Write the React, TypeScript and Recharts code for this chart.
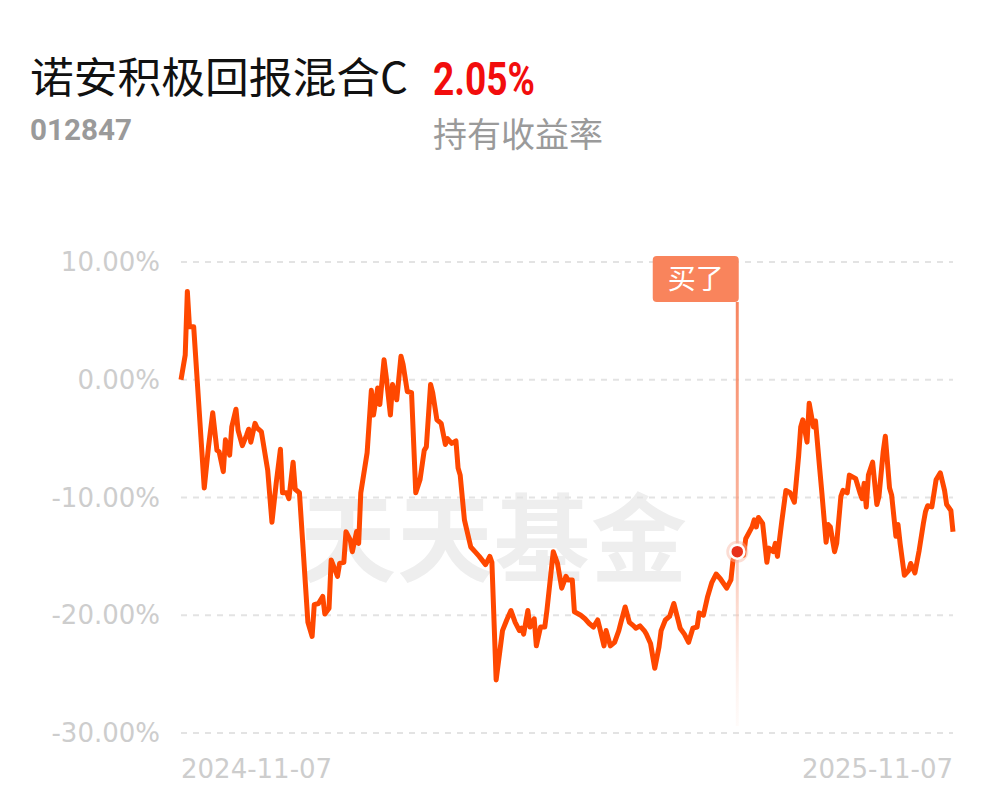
import {
  LineChart,
  Line,
  XAxis,
  YAxis,
  CartesianGrid,
  ReferenceArea,
  ReferenceDot,
} from 'recharts'

// days since 2024-11-07
const days = [
  0, 2, 3, 4, 6, 11, 13, 15, 17, 18, 20, 21, 23, 24, 26, 27, 29, 31, 32, 33,
  35, 36, 38, 41, 43, 45, 47, 48, 50, 51, 53, 54, 56, 60, 62, 63, 65, 67, 68, 70,
  71, 74, 75, 77, 78, 80, 81, 83, 84, 85, 88, 90, 91, 93, 94, 96, 97, 99, 100, 102,
  104, 105, 107, 109, 111, 113, 115, 116, 118, 119, 121, 123, 125, 126, 128, 130, 131, 132, 134, 137,
  139, 141, 144, 146, 147, 149, 150, 152, 154, 156, 158, 160, 161, 162, 164, 165, 167, 168, 170, 172,
  173, 176, 178, 180, 182, 183, 185, 186, 189, 191, 193, 195, 197, 198, 200, 201, 203, 205, 207, 208,
  210, 212, 214, 215, 217, 219, 220, 222, 224, 226, 227, 229, 231, 233, 234, 236, 238, 240, 242, 244,
  245, 247, 249, 251, 253, 255, 258, 260, 261, 263, 266, 267, 270, 271, 272, 273, 275, 277, 278, 280,
  281, 282, 284, 286, 288, 290, 292, 293, 294, 296, 297, 299, 300, 302, 303, 305, 306, 307, 309, 310,
  312, 313, 315, 316, 319, 321, 322, 323, 324, 325, 327, 329, 330, 332, 333, 335, 336, 338, 339, 340,
  342, 344, 345, 347, 349, 351, 352, 353, 355, 357, 359, 361, 362, 364, 365,
]

// holding return, %
const returns = [
  0.0, 2.1, 7.5, 4.5, 4.5, -9.2, -5.7, -2.8, -6.0, -6.1, -7.8, -5.1, -6.4, -4.0, -2.5, -4.3, -5.6, -4.7, -4.2, -5.3,
  -3.7, -4.1, -4.4, -7.7, -12.1, -8.8, -5.9, -9.6, -9.6, -10.1, -7.0, -9.3, -9.6, -20.6, -21.8, -19.1, -19.0, -18.4, -19.9, -19.4,
  -15.3, -16.7, -15.6, -15.5, -12.9, -13.6, -14.6, -12.9, -13.9, -9.6, -6.2, -0.9, -3.0, -0.7, -2.1, 1.7, 0.3, -3.0, -0.4, -1.7,
  2.0, 1.3, -1.0, -1.1, -9.6, -8.5, -6.0, -5.7, -0.4, -1.1, -3.4, -3.7, -5.5, -5.0, -5.4, -5.2, -7.5, -8.1, -11.9, -14.2,
  -14.6, -15.0, -15.7, -15.0, -15.5, -25.5, -24.1, -21.3, -20.4, -19.6, -20.6, -21.3, -21.1, -21.6, -19.6, -21.0, -20.3, -22.6, -21.0, -21.0,
  -19.6, -14.6, -15.6, -17.7, -16.7, -17.0, -17.0, -19.7, -20.0, -20.3, -20.7, -21.0, -20.4, -21.1, -22.6, -21.3, -22.6, -22.3, -21.3, -20.6,
  -19.3, -20.6, -20.9, -21.1, -20.9, -21.3, -21.6, -22.4, -24.5, -22.7, -21.3, -20.4, -20.1, -19.0, -19.7, -21.1, -21.6, -22.3, -21.1, -21.0,
  -19.8, -20.0, -18.4, -17.2, -16.5, -16.9, -17.7, -17.0, -15.3, -14.6, -14.9, -13.5, -12.5, -11.9, -12.5, -11.7, -12.2, -15.5, -14.3, -14.6,
  -13.9, -15.0, -12.1, -9.4, -9.6, -10.4, -6.5, -4.0, -3.4, -5.3, -2.0, -4.0, -3.5, -7.6, -9.6, -13.8, -12.3, -12.5, -14.6, -13.9,
  -9.9, -9.4, -9.6, -8.1, -8.4, -9.6, -10.1, -8.8, -10.8, -8.1, -7.0, -10.6, -9.9, -6.1, -4.8, -9.2, -9.8, -13.3, -12.3, -13.9,
  -16.6, -16.2, -15.6, -16.4, -14.5, -12.2, -11.2, -10.7, -10.8, -8.5, -7.9, -9.4, -10.6, -11.1, -12.9,
]

const yTicks = [-30, -20, -10, 0, 10]
const xTickDays = [0, 365]
const xTickLabels = ['2024-11-07', '2025-11-07']

const buyDay = 263
const buyValue = -14.6
const buyLabel = '买了'

const fundName = '诺安积极回报混合C'
const fundCode = '012847'
const holdReturn = '2.05%'
const holdReturnLabel = '持有收益率'

const data = days.map((day, i) => ({ day, value: returns[i] }))

const CJK = '"Noto Sans CJK SC", "Noto Sans", sans-serif'

function DateTick({ x, y, payload }: any) {
  const i = xTickDays.indexOf(payload.value)
  return (
    <text
      x={x}
      y={y}
      dy="0.71em"
      textAnchor={i === 0 ? 'start' : 'end'}
      fill="#cdcdcd"
      fontSize={26}
      fontFamily="DejaVu Sans"
    >
      {xTickLabels[i]}
    </text>
  )
}

function BuyTag({ viewBox }: any) {
  if (!viewBox) return null
  const w = 86
  const h = 46
  const left = viewBox.x + viewBox.width - w
  const top = viewBox.y - h
  return (
    <g>
      <rect x={left} y={top} width={w} height={h} rx={4} fill="#f9845c" />
      <text
        x={left + w / 2}
        y={top + h / 2}
        dy="0.36em"
        textAnchor="middle"
        fill="#fff"
        fontSize={28}
        fontFamily={CJK}
      >
        {buyLabel}
      </text>
    </g>
  )
}

export default function App() {
  return (
    <div
      style={{
        position: 'absolute',
        left: 0,
        top: 0,
        width: 997,
        height: 802,
        background: '#fff',
        overflow: 'hidden',
      }}
    >
      <svg width={997} height={180} style={{ position: 'absolute', left: 0, top: 0 }}>
        <text x={30} y={93} fontSize={42} fontFamily={CJK} fill="#111" textLength={378} lengthAdjust="spacingAndGlyphs">
          {fundName}
        </text>
        <text
          x={433}
          y={95}
          fontSize={47}
          fontWeight={700}
          fontFamily="Roboto"
          fill="#f20d0d"
          textLength={102}
          lengthAdjust="spacingAndGlyphs"
        >
          {holdReturn}
        </text>
        <text
          x={30}
          y={140}
          fontSize={30}
          fontWeight={700}
          fontFamily="Roboto"
          fill="#9a9a9a"
          textLength={102}
          lengthAdjust="spacingAndGlyphs"
        >
          {fundCode}
        </text>
        <text x={433} y={147} fontSize={34} fontFamily={CJK} fill="#9a9a9a">
          {holdReturnLabel}
        </text>
      </svg>

      <div
        style={{
          position: 'absolute',
          left: 300,
          top: 478,
          width: 400,
          textAlign: 'left',
          fontFamily: CJK,
          fontWeight: 700,
          fontSize: 96,
          lineHeight: '110px',
          color: '#eeeeee',
          letterSpacing: 1,
          whiteSpace: 'nowrap',
        }}
      >
        天天基金
      </div>

      <div style={{ position: 'absolute', left: 0, top: 0 }}>
        <LineChart
          width={997}
          height={802}
          data={data}
          margin={{ top: 262, right: 44, bottom: 0, left: 0 }}
        >
          <defs>
            <linearGradient id="buyGrad" x1="0" y1="0" x2="0" y2="1">
              <stop offset="0%" stopColor="#f7845e" stopOpacity={1} />
              <stop offset="55%" stopColor="#f9a083" stopOpacity={0.75} />
              <stop offset="100%" stopColor="#fde3da" stopOpacity={0.15} />
            </linearGradient>
          </defs>
          <CartesianGrid vertical={false} stroke="#e3e3e3" strokeWidth={2} strokeDasharray="6 6" />
          <XAxis
            dataKey="day"
            type="number"
            domain={[0, 365]}
            ticks={xTickDays}
            interval={0}
            axisLine={false}
            tickLine={false}
            tickSize={0}
            tickMargin={27}
            height={69}
            tick={<DateTick />}
          />
          <YAxis
            domain={[-30, 10]}
            ticks={yTicks}
            width={181}
            axisLine={false}
            tickLine={false}
            tickSize={0}
            tickMargin={21}
            tick={{ fill: '#cdcdcd', fontSize: 26, fontFamily: 'DejaVu Sans' }}
            tickFormatter={(v: number) => `${v.toFixed(2)}%`}
          />
          <ReferenceArea
            x1={buyDay - 0.7}
            x2={buyDay + 0.7}
            y1={-29.4}
            y2={6.6}
            fill="url(#buyGrad)"
            stroke="none"
            fillOpacity={1}
            label={<BuyTag />}
          />
          <Line
            type="linear"
            dataKey="value"
            stroke="#ff4800"
            strokeWidth={5}
            strokeLinejoin="round"
            dot={false}
            activeDot={false}
            isAnimationActive={false}
          />
          <ReferenceDot x={buyDay} y={buyValue} r={11} fill="#f8b4a0" fillOpacity={0.45} stroke="none" />
          <ReferenceDot x={buyDay} y={buyValue} r={7} fill="#e8311c" stroke="#fff" strokeWidth={2.5} />
        </LineChart>
      </div>
    </div>
  )
}
